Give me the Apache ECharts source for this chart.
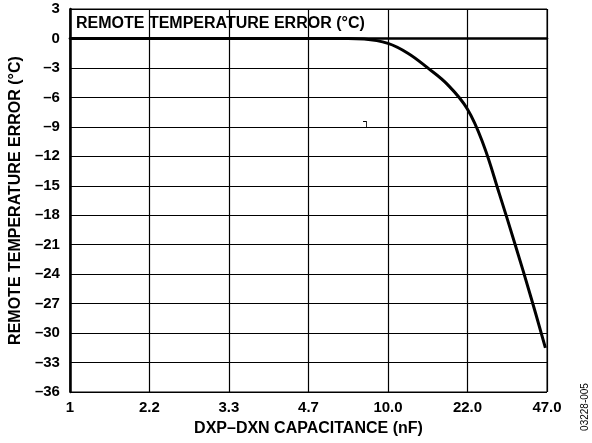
<!DOCTYPE html>
<html>
<head>
<meta charset="utf-8">
<script src="https://cdn.jsdelivr.net/npm/echarts@6/dist/echarts.min.js"></script>
<style>
  html, body { margin: 0; padding: 0; background: #fff; }
  #chart { width: 592px; height: 443px; }
</style>
</head>
<body>
<div id="chart"></div>
<script>
  // capacitance ticks (evenly spaced on the chart)
  const xLabels = ['1', '2.2', '3.3', '4.7', '10.0', '22.0', '47.0']
  // curve position along the tick index and error
  const curvePos = [0, 1, 2, 3, 3.5, 3.7, 4.0, 4.25, 4.5, 4.75, 5.0, 5.2, 5.4, 5.6, 5.8, 5.98]
  const curveErr = [0, 0, 0, 0, 0, -0.05, -0.5, -1.5, -3.0, -4.7, -7.2, -10.8, -15.8, -21.0, -26.4, -31.5]

  const font = 'Liberation Sans, Arial, Helvetica, sans-serif'
  const fmtMinus = (v) => (v < 0 ? '\u2013' + Math.abs(v) : String(v))

  const chart = echarts.init(document.getElementById('chart'))
  chart.setOption({
    animation: false,
    grid: {
      left: 67, right: 45, top: 9, bottom: 51,
      show: true, borderColor: '#000', borderWidth: 1
    },
    xAxis: {
      type: 'value',
      min: 0, max: 6, interval: 1,
      name: 'DXP\u2013DXN CAPACITANCE (nF)',
      nameLocation: 'middle',
      nameGap: 29,
      nameTextStyle: { fontFamily: font, fontWeight: 'bold', fontSize: 16, color: '#000' },
      axisLine: { lineStyle: { color: '#000', width: 2.5 } },
      axisTick: { show: false },
      axisLabel: {
        fontFamily: font, fontWeight: 'bold', fontSize: 15, color: '#000', margin: 8,
        formatter: (v) => xLabels[Math.round(v)]
      },
      splitLine: { show: true, lineStyle: { color: '#000', width: 1.2 } }
    },
    yAxis: {
      type: 'value',
      min: -36, max: 3, interval: 3,
      name: 'REMOTE TEMPERATURE ERROR (\u00B0C)',
      nameLocation: 'middle',
      nameGap: 45,
      nameTextStyle: { fontFamily: font, fontWeight: 'bold', fontSize: 16, color: '#000' },
      axisLine: { show: true, lineStyle: { color: '#000', width: 2.5 } },
      axisTick: { show: false },
      axisLabel: {
        fontFamily: font, fontWeight: 'bold', fontSize: 15, color: '#000', margin: 10,
        formatter: fmtMinus
      },
      splitLine: { show: true, lineStyle: { color: '#000', width: 1.2 } }
    },
    series: [
      {
        type: 'line',
        data: curvePos.map((p, i) => [p, curveErr[i]]),
        smooth: 0.4,
        symbol: 'none',
        lineStyle: { color: '#000', width: 3 },
        z: 5
      }
    ],
    graphic: [
      {
        type: 'text', left: 76, top: 16, z: 10,
        style: {
          text: 'REMOTE TEMPERATURE ERROR (\u00B0C)',
          font: 'bold 16px ' + font, fill: '#000'
        }
      },
      {
        type: 'text', left: 363, top: 117, z: 10,
        style: { text: '\u2510', font: '11px DejaVu Sans', fill: '#000' }
      },
      {
        type: 'text', x: 590, y: 407, rotation: Math.PI / 2, z: 10,
        style: {
          text: '03228-005', font: '10px ' + font, fill: '#000',
          align: 'center', verticalAlign: 'bottom'
        }
      }
    ]
  })
</script>
</body>
</html>
